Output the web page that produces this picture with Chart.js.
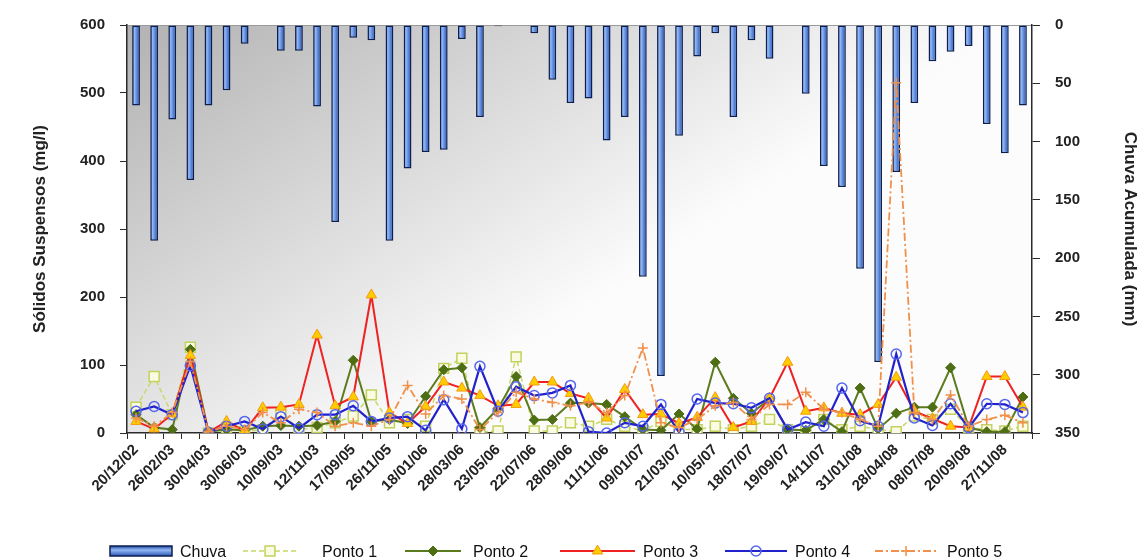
<!DOCTYPE html>
<html>
<head>
<meta charset="utf-8">
<script src="https://cdn.jsdelivr.net/npm/chart.js@4.4.0/dist/chart.umd.min.js"></script>
<style>
  html, body { margin: 0; padding: 0; background: #fff; }
  #wrap { width: 1141px; height: 559px; }
</style>
</head>
<body>
<div id="wrap"><canvas id="chart" width="1141" height="559"></canvas></div>
<script>
// dates (only every second one is printed on the axis)
const categories = [
  '20/12/02', '', '26/02/03', '', '30/04/03', '', '30/06/03', '', '10/09/03', '',
  '12/11/03', '', '17/09/05', '', '26/11/05', '', '18/01/06', '', '28/03/06', '',
  '23/05/06', '', '22/07/06', '', '28/09/06', '', '11/11/06', '', '09/01/07', '',
  '21/03/07', '', '10/05/07', '', '18/07/07', '', '19/09/07', '', '14/11/07', '',
  '31/01/08', '', '28/04/08', '', '08/07/08', '', '20/09/08', '', '27/11/08', ''
];

// rain (mm), right axis, drawn downward
const chuva = [69, 185, 81, 133, 69, 56, 16, 0, 22, 22,
  70, 169, 11, 13, 185, 123, 109, 107, 12, 79,
  1, 0, 7, 47, 67, 63, 99, 79, 216, 301,
  95, 27, 7, 79, 13, 29, 0, 59, 121, 139,
  209, 289, 126, 67, 31, 23, 18, 85, 110, 69];

// suspended solids (mg/l), left axis
const ponto1 = [38, 83, 27, 126, 0, 8, 2, 5, 30, 5,
  8, 15, 25, 56, 15, 20, 10, 95, 110, 1,
  3, 112, 3, 3, 15, 10, 20, 10, 3, 17,
  5, 5, 10, 5, 10, 20, 5, 2, 20, 5,
  10, 5, 2, 25, 20, 35, 8, 5, 3, 10];
const ponto2 = [27, 8, 5, 123, 2, 5, 4, 10, 11, 10,
  11, 17, 107, 17, 20, 14, 54, 93, 96, 8,
  36, 83, 19, 20, 44, 44, 42, 24, 5, 4,
  28, 6, 104, 51, 29, 50, 5, 4, 20, 2,
  66, 6, 29, 38, 38, 96, 8, 2, 2, 53];
const ponto3 = [17, 6, 28, 114, 1, 17, 3, 37, 38, 42,
  144, 40, 53, 203, 30, 14, 39, 75, 66, 55,
  40, 42, 75, 75, 58, 51, 22, 64, 27, 28,
  14, 23, 52, 8, 17, 51, 104, 32, 37, 29,
  27, 42, 82, 32, 21, 10, 8, 83, 83, 38];
const ponto4 = [32, 39, 27, 99, 1, 10, 17, 6, 24, 7,
  27, 27, 40, 17, 22, 24, 4, 49, 6, 98,
  32, 68, 55, 59, 70, 2, 0, 15, 10, 42,
  1, 50, 44, 43, 37, 51, 5, 16, 10, 66,
  18, 10, 116, 22, 11, 43, 8, 43, 42, 30];
const ponto5 = [22, 10, 30, 105, 2, 10, 5, 30, 15, 35,
  30, 10, 15, 10, 20, 70, 28, 55, 50, 5,
  30, 60, 50, 45, 40, 45, 30, 55, 125, 15,
  8, 20, 40, 45, 20, 42, 42, 60, 35, 30,
  20, 10, 515, 30, 20, 56, 10, 20, 26, 15];

const leftTicks = [0, 100, 200, 300, 400, 500, 600];
const rightTicks = [0, 50, 100, 150, 200, 250, 300, 350];

const FONT = "'Liberation Sans', Arial, sans-serif";
const AXIS = '#2b2b2b';

function barFill(c) {
  const chart = c.chart;
  const xs = chart.scales.x;
  if (!chart.chartArea || !xs) return '#5a88dc';
  const x = xs.getPixelForValue(c.dataIndex);
  const g = chart.ctx.createLinearGradient(x - 4, 0, x + 4, 0);
  g.addColorStop(0, '#1f48a8');
  g.addColorStop(0.3, '#93b9f3');
  g.addColorStop(0.6, '#5b88dc');
  g.addColorStop(1, '#1f4aa8');
  return g;
}

// grey gradient behind the plot area
const plotBg = {
  id: 'plotBg',
  beforeDraw(chart) {
    const {ctx, chartArea: a} = chart;
    const g = ctx.createLinearGradient(a.left, a.top, a.left + (a.right - a.left) * 0.3, a.bottom);
    g.addColorStop(0, '#b2b2b2');
    g.addColorStop(1, '#fcfcfc');
    ctx.save();
    ctx.fillStyle = g;
    ctx.fillRect(a.left, a.top, a.right - a.left, a.bottom - a.top);
    ctx.strokeStyle = '#9a9a9a';
    ctx.lineWidth = 1;
    ctx.beginPath();
    ctx.moveTo(a.left, a.top + 0.5);
    ctx.lineTo(a.right, a.top + 0.5);
    ctx.stroke();
    ctx.restore();
  }
};

function drawMarker(ctx, ds, x, y) {
  const r = ds.pointRadius;
  ctx.save();
  ctx.fillStyle = ds.pointBackgroundColor;
  ctx.strokeStyle = ds.pointBorderColor;
  ctx.lineWidth = ds.pointBorderWidth || 1;
  ctx.setLineDash([]);
  ctx.beginPath();
  if (ds.pointStyle === 'rect') {
    const s = r / Math.SQRT2;
    ctx.rect(x - s, y - s, 2 * s, 2 * s);
  } else if (ds.pointStyle === 'rectRot') {
    ctx.moveTo(x, y - r); ctx.lineTo(x + r, y); ctx.lineTo(x, y + r); ctx.lineTo(x - r, y); ctx.closePath();
  } else if (ds.pointStyle === 'triangle') {
    ctx.moveTo(x, y - r); ctx.lineTo(x + r * 0.87, y + r * 0.5); ctx.lineTo(x - r * 0.87, y + r * 0.5); ctx.closePath();
  } else if (ds.pointStyle === 'circle') {
    ctx.arc(x, y, r, 0, Math.PI * 2);
  } else if (ds.pointStyle === 'cross') {
    ctx.moveTo(x - r, y); ctx.lineTo(x + r, y); ctx.moveTo(x, y - r); ctx.lineTo(x, y + r);
    ctx.stroke(); ctx.restore(); return;
  }
  ctx.fill();
  ctx.stroke();
  ctx.restore();
}

// legend row at the bottom: [x0, x1, textX]
const legendPos = [[110, 172, 180], [243, 297, 322], [405, 461, 473], [560, 635, 643], [725, 787, 795], [875, 937, 947]];
const legendRow = {
  id: 'legendRow',
  afterDraw(chart) {
    const ctx = chart.ctx;
    const y = 551;
    ctx.save();
    ctx.font = '16px ' + FONT;
    ctx.textBaseline = 'middle';
    ctx.fillStyle = '#111';
    chart.data.datasets.forEach((ds, i) => {
      const [x0, x1, tx] = legendPos[i];
      if (ds.type === 'bar') {
        const g = ctx.createLinearGradient(0, y - 5, 0, y + 5);
        g.addColorStop(0, '#1f48a8');
        g.addColorStop(0.4, '#93b9f3');
        g.addColorStop(1, '#2a56b8');
        ctx.fillStyle = g;
        ctx.fillRect(x0, y - 5, x1 - x0, 10);
        ctx.strokeStyle = '#0d1f4f';
        ctx.lineWidth = 1.5;
        ctx.strokeRect(x0, y - 5, x1 - x0, 10);
      } else {
        ctx.strokeStyle = ds.borderColor;
        ctx.lineWidth = ds.borderWidth;
        ctx.setLineDash(ds.borderDash || []);
        ctx.beginPath();
        ctx.moveTo(x0, y);
        ctx.lineTo(x1, y);
        ctx.stroke();
        ctx.setLineDash([]);
        drawMarker(ctx, ds, (x0 + x1) / 2, y);
      }
      ctx.fillStyle = '#111';
      ctx.fillText(ds.label, tx, y + 2);
    });
    ctx.restore();
  }
};

new Chart(document.getElementById('chart').getContext('2d'), {
  data: {
    labels: categories,
    datasets: [{
      type: 'bar',
      label: 'Chuva',
      data: chuva,
      yAxisID: 'y1',
      backgroundColor: barFill,
      borderColor: '#0d1f4f',
      borderWidth: 1.5,
      borderSkipped: false,
      barPercentage: 0.43,
      categoryPercentage: 1,
      order: 10
    }, {
      type: 'line',
      label: 'Ponto 1',
      data: ponto1,
      yAxisID: 'y',
      borderColor: '#c9d86a',
      borderWidth: 1.5,
      borderDash: [5, 3],
      pointStyle: 'rect',
      pointRadius: 7,
      pointBackgroundColor: '#fbfbe4',
      pointBorderColor: '#c2d25c',
      pointBorderWidth: 1.5,
      tension: 0,
      order: 5
    }, {
      type: 'line',
      label: 'Ponto 2',
      data: ponto2,
      yAxisID: 'y',
      borderColor: '#5b7b1e',
      borderWidth: 2,
      pointStyle: 'rectRot',
      pointRadius: 5,
      pointBackgroundColor: '#4e6e14',
      pointBorderColor: '#4e6e14',
      pointBorderWidth: 1,
      tension: 0,
      order: 4
    }, {
      type: 'line',
      label: 'Ponto 3',
      data: ponto3,
      yAxisID: 'y',
      borderColor: '#ee2222',
      borderWidth: 2,
      pointStyle: 'triangle',
      pointRadius: 6,
      pointBackgroundColor: '#ffcc00',
      pointBorderColor: '#f39c12',
      pointBorderWidth: 1,
      tension: 0,
      order: 3
    }, {
      type: 'line',
      label: 'Ponto 4',
      data: ponto4,
      yAxisID: 'y',
      borderColor: '#2222cc',
      borderWidth: 2.2,
      pointStyle: 'circle',
      pointRadius: 5,
      pointBackgroundColor: 'rgba(255,255,255,0)',
      pointBorderColor: '#5566ee',
      pointBorderWidth: 1.5,
      tension: 0,
      order: 2
    }, {
      type: 'line',
      label: 'Ponto 5',
      data: ponto5,
      yAxisID: 'y',
      borderColor: '#f0904a',
      borderWidth: 1.8,
      borderDash: [8, 3, 2, 3],
      pointStyle: 'cross',
      pointRadius: 5,
      pointBackgroundColor: '#f0904a',
      pointBorderColor: '#f0904a',
      pointBorderWidth: 1.5,
      tension: 0,
      order: 1
    }]
  },
  options: {
    responsive: false,
    animation: false,
    layout: { padding: { top: 25, bottom: 46, left: 0, right: 0 } },
    plugins: {
      legend: { display: false },
      tooltip: { enabled: false }
    },
    scales: {
      x: {
        offset: true,
        grid: { offset: true, drawOnChartArea: false, drawTicks: true, tickLength: 6, color: AXIS },
        border: { display: true, color: AXIS, width: 1.5 },
        ticks: {
          autoSkip: false,
          minRotation: 45,
          maxRotation: 45,
          padding: 2,
          color: '#222',
          font: { family: FONT, size: 15, weight: 'bold' },
          callback: (v, i) => categories[i]
        },
        afterFit: s => { s.height = 80; }
      },
      y: {
        position: 'left',
        min: 0,
        max: 600,
        afterBuildTicks: s => { s.ticks = leftTicks.map(v => ({ value: v })); },
        grid: { drawOnChartArea: false, drawTicks: true, tickLength: 7, color: AXIS },
        border: { display: true, color: AXIS, width: 1.5 },
        ticks: { padding: 15, color: '#222', font: { family: FONT, size: 15, weight: 'bold' } },
        title: {
          display: true,
          text: 'Sólidos Suspensos (mg/l)',
          color: '#222',
          font: { family: FONT, size: 17, weight: 'bold' },
          padding: { top: 30, bottom: 0 }
        },
        afterFit: s => { s.width = 127; }
      },
      y1: {
        position: 'right',
        reverse: true,
        min: 0,
        max: 350,
        afterBuildTicks: s => { s.ticks = rightTicks.map(v => ({ value: v })); },
        grid: { drawOnChartArea: false, drawTicks: true, tickLength: 8, color: AXIS },
        border: { display: true, color: AXIS, width: 1.5 },
        ticks: { padding: 15, color: '#222', font: { family: FONT, size: 15, weight: 'bold' } },
        title: {
          display: true,
          text: 'Chuva Acumulada (mm)',
          color: '#222',
          font: { family: FONT, size: 17, weight: 'bold' },
          padding: { top: 1, bottom: 0 }
        },
        afterFit: s => { s.width = 109; }
      }
    }
  },
  plugins: [plotBg, legendRow]
});
</script>
</body>
</html>
